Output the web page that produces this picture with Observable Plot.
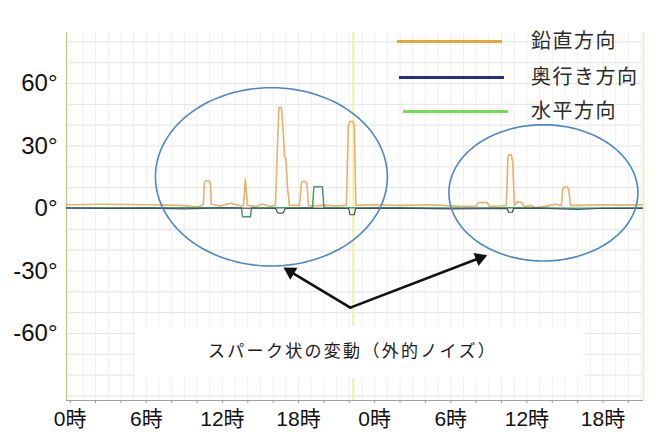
<!DOCTYPE html>
<html><head><meta charset="utf-8">
<script src="https://cdn.jsdelivr.net/npm/d3@7"></script>
<script src="https://cdn.jsdelivr.net/npm/@observablehq/plot@0.6"></script>
<style>
body{margin:0;background:#fff;}
#wrap{position:relative;width:659px;height:432px;overflow:hidden;background:#fff;}
.leg-line{position:absolute;height:3px;}
.leg-text{position:absolute;font-family:"Noto Sans CJK JP","Noto Sans",sans-serif;font-size:20px;color:#2a2a2a;line-height:20px;letter-spacing:1.5px;white-space:nowrap;}
#note{position:absolute;left:135px;top:326px;width:448px;height:52px;background:#fff;}
#note span{position:absolute;left:73px;top:14px;font-family:"Noto Sans CJK JP",sans-serif;font-weight:400;font-size:17px;line-height:20px;letter-spacing:2.3px;color:#1a1a1a;white-space:nowrap;}
</style>
</head><body>
<div id="wrap"></div>
<script>
// ---- data (hours, degrees) ----
const seriesNames = ["鉛直方向", "奥行き方向", "水平方向"];
const legendColors = ["#f0a53a", "#2d2b86", "#76dd50"];
const lineColors = ["#e2b36a", "#3f4f6c", "#4b9a6b"];

const verticalDeg = [
  [-0.29,1.8],[2.39,2.0],[6.33,1.8],[8.69,1.5],[9.89,0.8],[10.27,1.2],[10.50,2.0],[10.58,12.5],[10.70,13.3],[10.94,13.3],[11.06,12.0],[11.13,2.0],
  [11.84,1.2],[12.63,2.5],[13.42,1.3],[13.66,1.5],[13.81,14.0],[13.97,1.5],[14.60,1.0],[15.16,2.2],[15.79,1.0],[16.18,1.5],
  [16.34,30],[16.45,48.5],[16.65,48.5],[16.81,35],[16.89,25],[17.0,24],[17.13,10],[17.28,1.5],
  [18.07,1.5],[18.23,12.5],[18.35,13],[18.55,13],[18.66,12],[18.78,1.5],[19.10,1.2],[20.12,1.6],[20.91,1.2],[21.77,1.5],
  [21.93,40],[22.05,41.8],[22.28,41.8],[22.40,40],[22.52,1.5],[23.67,1.8],[26.03,1.5],[28.40,1.8],[30.77,1.0],
  [32.0,1.2],[32.17,2.8],[32.88,2.8],[33.03,1.0],[33.91,1.2],[34.38,1.5],[34.50,24],[34.58,25.8],[34.77,25.8],[34.89,22],[35.01,1.5],
  [35.25,3.2],[35.57,3.0],[35.80,0.8],[36.28,1.5],[36.67,0.5],[37.46,1.0],[38.25,2.0],[38.72,1.5],
  [38.83,9.5],[38.95,10.3],[39.19,10.3],[39.31,9.0],[39.43,1.5],[40.21,1.5],[41.80,1.8],[43.38,1.6],[45.1,1.8]
];
const depthDeg = [
  [-0.29,0.2],[3,0],[6,0.2],[9,-0.2],[12,0.3],[16.2,0],[16.35,-2],[16.55,-2.4],[16.8,-2],[16.95,0],
  [19,0.2],[21.95,0],[22.05,-3],[22.4,-3],[22.5,0],[26,0.2],[30,-0.2],[34.45,0],[34.55,-1.8],[34.85,-1.8],[34.95,0],
  [37,0.2],[40,-0.5],[42,0.1],[45.1,0]
];
const horizontalDeg = [
  [-0.29,0.4],[5,0.3],[10,0.4],[13.5,0.3],[13.58,-4],[14.21,-4],[14.29,0.3],[19.1,0.3],[19.21,10.4],[19.88,10.4],[20.0,0.3],
  [25,0.4],[30,0.2],[35,0.4],[40,0.1],[45.1,0.3]
];

const dayBoundary = [22.32];
const xTickHours = [0, 6, 12, 18, 24, 30, 36, 42];
const xTickLabels = ["0時", "6時", "12時", "18時", "0時", "6時", "12時", "18時"];
const yTicks = [-60, -30, 0, 30, 60];

// annotation ellipses: center hour, center deg, half-width hours, half-height deg
const ellipseCx = [15.86, 37.30];
const ellipseCy = [15.2, 7.5];
const ellipseRx = [9.14, 7.45];
const ellipseRy = [42.8, 32.7];
// annotation arrows: from apex to tips
const arrowFrom = [[22.08, -47.6], [22.08, -47.6]];
const arrowTo = [[16.81, -28.3], [32.88, -22.4]];
const noteText = "スパーク状の変動（外的ノイズ）";

const xDomain = [-0.29, 45.19];
const yDomain = [-92.2, 84.5];

// ---- build ----
const ellipsePts = [];
ellipseCx.forEach((cx, k) => {
  for (let i = 0; i <= 120; i++) {
    const t = i / 120 * 2 * Math.PI;
    ellipsePts.push({id: k, x: cx + ellipseRx[k] * Math.cos(t), y: ellipseCy[k] + ellipseRy[k] * Math.sin(t)});
  }
});
const arrows = arrowFrom.map((f, i) => ({x1: f[0], y1: f[1], x2: arrowTo[i][0], y2: arrowTo[i][1]}));

const base = {
  width: 659, height: 432,
  marginLeft: 66, marginRight: 16, marginTop: 32, marginBottom: 32,
  x: {domain: xDomain},
  y: {domain: yDomain},
  style: {fontFamily: "'Liberation Sans', Arial, 'Noto Sans CJK JP', sans-serif", background: "#fff", color: "#111"}
};

// first pass to obtain the scales, for arrowhead orientation in screen space
const probe = Plot.plot({...base, marks: [Plot.ruleY([0])]});
const sx = probe.scale("x"), sy = probe.scale("y");
const headMarks = arrows.map(a => {
  const dx = sx.apply(a.x2) - sx.apply(a.x1);
  const dy = sy.apply(a.y2) - sy.apply(a.y1);
  const len = Math.hypot(dx, dy);
  const ux = dx / len, uy = dy / len;
  const ang = Math.atan2(dx, -dy) * 180 / Math.PI;
  const r = 5.2;
  const tip = 2 * Math.sqrt(r * r * Math.PI / (Math.sqrt(3) * 3));
  return Plot.dot([a], {x: "x2", y: "y2", symbol: "triangle", r, rotate: ang, fill: "#111", stroke: "none",
    dx: -tip * ux, dy: -tip * uy});
});

const chart = Plot.plot({
  ...base,
  marks: [
    Plot.gridY(d3.range(-90, 81, 10), {stroke: "#e3e3e3", strokeOpacity: 1}),
    Plot.gridX(d3.range(0, 46, 1), {stroke: "#efefef", strokeOpacity: 1}),
    Plot.ruleX(dayBoundary, {stroke: "#f4ef9c", strokeWidth: 2}),
    Plot.ruleX([xDomain[1]], {stroke: "#f2efc0", strokeWidth: 2}),
    Plot.ruleX([xDomain[0]], {stroke: "#c5cc92", strokeWidth: 1.5}),
    Plot.ruleY([yDomain[0]], {stroke: "#a0a0a0", strokeWidth: 1}),
    Plot.line(verticalDeg, {x: d => d[0], y: d => d[1], stroke: lineColors[0], strokeWidth: 1.6}),
    Plot.line(horizontalDeg, {x: d => d[0], y: d => d[1], stroke: lineColors[2], strokeWidth: 1.5}),
    Plot.line(depthDeg, {x: d => d[0], y: d => d[1], stroke: lineColors[1], strokeWidth: 1.2}),
    Plot.line(ellipsePts, {x: "x", y: "y", z: "id", stroke: "#4d87c2", strokeWidth: 1.6}),
    Plot.arrow(arrows, {x1: "x1", y1: "y1", x2: "x2", y2: "y2", stroke: "#111", strokeWidth: 2.6, headLength: 0, insetEnd: 6}),
    ...headMarks,
    Plot.axisX(d3.range(0, 46, 2), {tickSize: 3, tickFormat: () => "", stroke: "#999"}),
    Plot.axisX(xTickHours, {tickSize: 0, tickPadding: 11, fontSize: 21, fill: "#111",
      tickFormat: d => xTickLabels[xTickHours.indexOf(d)], label: null}),
    Plot.axisY(yTicks, {tickSize: 0, tickPadding: 9, fontSize: 24, fill: "#111",
      tickFormat: d => `${d}°`, label: null})
  ]
});

const wrap = document.getElementById("wrap");
wrap.appendChild(chart);

// legend
const legX1 = [397, 399, 403], legY = [41, 77, 111];
seriesNames.forEach((name, i) => {
  const ln = document.createElement("div");
  ln.className = "leg-line";
  ln.style.left = legX1[i] + "px";
  ln.style.top = (legY[i] - 1.5) + "px";
  ln.style.width = "105px";
  ln.style.background = legendColors[i];
  wrap.appendChild(ln);
  const tx = document.createElement("div");
  tx.className = "leg-text";
  tx.style.left = "531px";
  tx.style.top = (legY[i] - 11) + "px";
  tx.textContent = name;
  wrap.appendChild(tx);
});
const note = document.createElement("div");
note.id = "note";
const ns = document.createElement("span");
ns.textContent = noteText;
note.appendChild(ns);
wrap.appendChild(note);
</script>
</body></html>
